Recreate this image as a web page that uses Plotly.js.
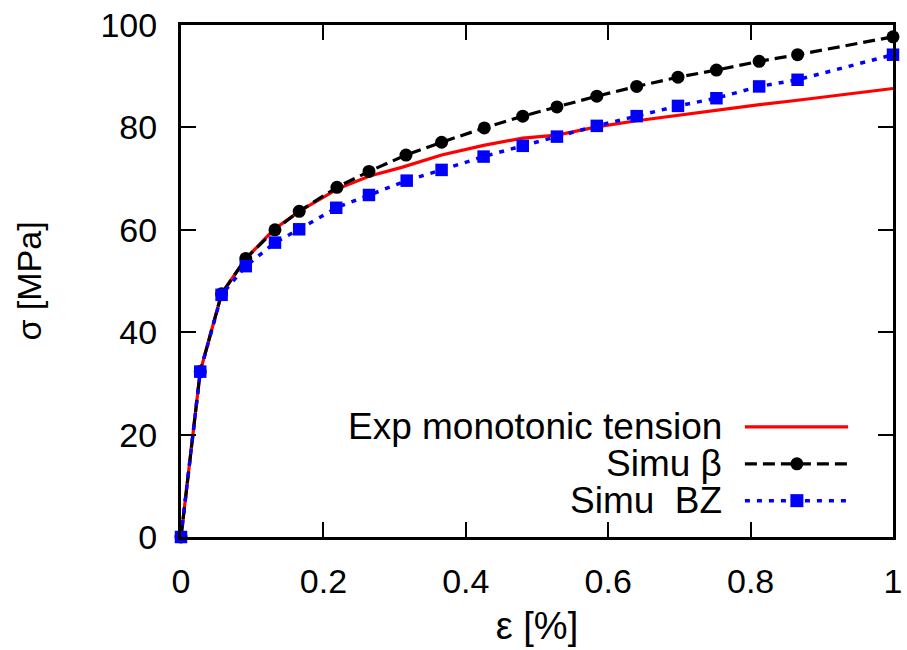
<!DOCTYPE html>
<html>
<head>
<meta charset="utf-8">
<script src="https://cdn.plot.ly/plotly-3.0.1.min.js"></script>
<style>html,body{margin:0;padding:0;background:#fff;}#chart{width:907px;height:650px;}</style>
</head>
<body>
<div id="chart"></div>
<script>
// Experimental curve
const expStrain = [0, 0.027, 0.057, 0.09, 0.13, 0.166, 0.22, 0.265, 0.31, 0.366, 0.425, 0.48, 0.528, 0.584, 0.64, 0.698, 0.752, 0.81, 0.866, 1.0];
const expStress = [0, 32.3, 47.5, 54.2, 60.0, 63.6, 68.0, 70.5, 72.2, 74.6, 76.5, 77.9, 78.5, 80.1, 81.3, 82.4, 83.4, 84.4, 85.3, 87.6];
// Simu beta
const betaStrain = [0, 0.027, 0.057, 0.091, 0.132, 0.166, 0.219, 0.264, 0.316, 0.366, 0.426, 0.480, 0.528, 0.584, 0.640, 0.698, 0.752, 0.812, 0.866, 1.0];
const betaStress = [0, 32.3, 47.5, 54.4, 60.0, 63.6, 68.3, 71.4, 74.6, 77.1, 79.9, 82.2, 84.0, 86.1, 88.0, 89.8, 91.2, 92.9, 94.2, 97.7];
// Simu BZ
const bzStrain = [0, 0.027, 0.057, 0.091, 0.132, 0.166, 0.218, 0.264, 0.317, 0.366, 0.425, 0.480, 0.528, 0.584, 0.640, 0.698, 0.752, 0.812, 0.866, 1.0];
const bzStress = [0, 32.3, 47.3, 52.9, 57.5, 60.1, 64.3, 66.8, 69.6, 71.7, 74.3, 76.4, 78.2, 80.3, 82.2, 84.2, 85.7, 88.0, 89.3, 94.2];
// Labels
const seriesNames = ["Exp monotonic tension", "Simu \u03b2", "Simu  BZ"];
const xTickVals = [0, 0.2, 0.4, 0.6, 0.8, 1];
const xTickText = ["0", "0.2", "0.4", "0.6", "0.8", "1"];
const yTickVals = [0, 20, 40, 60, 80, 100];
const xTitle = "\u03b5 [%]";
const yTitle = "\u03c3 [MPa]";

const FONT = "Liberation Sans, Arial, sans-serif";
const FS = 34;

const traces = [
  {x: expStrain, y: expStress, name: seriesNames[0], mode: "lines",
   line: {color: "#ff0000", width: 3.2}, cliponaxis: false},
  {x: betaStrain, y: betaStress, name: seriesNames[1], mode: "lines+markers",
   line: {color: "#000000", width: 3.2, dash: "12px,6px"},
   marker: {symbol: "circle", size: 13, color: "#000000"}, cliponaxis: false},
  {x: bzStrain, y: bzStress, name: seriesNames[2], mode: "lines+markers",
   line: {color: "#0000ff", width: 3.5, dash: "5px,7px"},
   marker: {symbol: "square", size: 12.5, color: "#0000ff"}, cliponaxis: false}
];

// custom legend (text right-aligned, sample to the right) as in reference
const legRows = [0.215, 0.143, 0.071];
const legTextX = 0.762, legL0 = 0.792, legL1 = 0.937, legM = 0.865;
const annotations = seriesNames.map((n, i) => ({
  text: n, xref: "paper", yref: "paper", x: legTextX, y: legRows[i],
  xanchor: "right", yanchor: "middle", showarrow: false,
  font: {family: FONT, size: 37, color: "#000"}
}));
const shapes = [
  {type: "line", xref: "paper", yref: "paper", x0: legL0, x1: legL1, y0: legRows[0], y1: legRows[0],
   line: {color: "#ff0000", width: 3.2}},
  {type: "line", xref: "paper", yref: "paper", x0: legL0, x1: legL1, y0: legRows[1], y1: legRows[1],
   line: {color: "#000000", width: 3.2, dash: "12px,6px"}},
  {type: "circle", xref: "paper", yref: "paper", xsizemode: "pixel", ysizemode: "pixel",
   xanchor: legM, yanchor: legRows[1], x0: -6.5, x1: 6.5, y0: -6.5, y1: 6.5,
   fillcolor: "#000", line: {width: 0}},
  {type: "line", xref: "paper", yref: "paper", x0: legL0, x1: legL1, y0: legRows[2], y1: legRows[2],
   line: {color: "#0000ff", width: 3.5, dash: "5px,7px"}},
  {type: "rect", xref: "paper", yref: "paper", xsizemode: "pixel", ysizemode: "pixel",
   xanchor: legM, yanchor: legRows[2], x0: -6.5, x1: 6.5, y0: -6.5, y1: 6.5,
   fillcolor: "#0000ff", line: {width: 0}}
];

const layout = {
  width: 907, height: 650,
  margin: {l: 181, r: 14, t: 25, b: 113},
  paper_bgcolor: "#fff", plot_bgcolor: "#fff",
  showlegend: false,
  font: {family: FONT, size: FS, color: "#000"},
  xaxis: {
    range: [0, 1], tickvals: xTickVals, ticktext: xTickText,
    ticks: "inside", ticklen: 15, tickwidth: 2, tickcolor: "#000",
    showline: true, linecolor: "#000", linewidth: 3, mirror: "allticks",
    showgrid: false, zeroline: false, ticklabelstandoff: 12,
    tickfont: {family: FONT, size: FS},
    title: {text: xTitle, font: {family: FONT, size: 38}, standoff: 14}
  },
  yaxis: {
    range: [0, 100], tickvals: yTickVals,
    ticks: "inside", ticklen: 15, tickwidth: 2, tickcolor: "#000",
    showline: true, linecolor: "#000", linewidth: 3, mirror: "allticks",
    showgrid: false, zeroline: false, ticklabelstandoff: 14,
    tickfont: {family: FONT, size: FS},
    title: {text: yTitle, font: {family: FONT, size: FS}, standoff: 49}
  },
  annotations: annotations,
  shapes: shapes
};

Plotly.newPlot("chart", traces, layout, {displayModeBar: false, staticPlot: true});
</script>
</body>
</html>
